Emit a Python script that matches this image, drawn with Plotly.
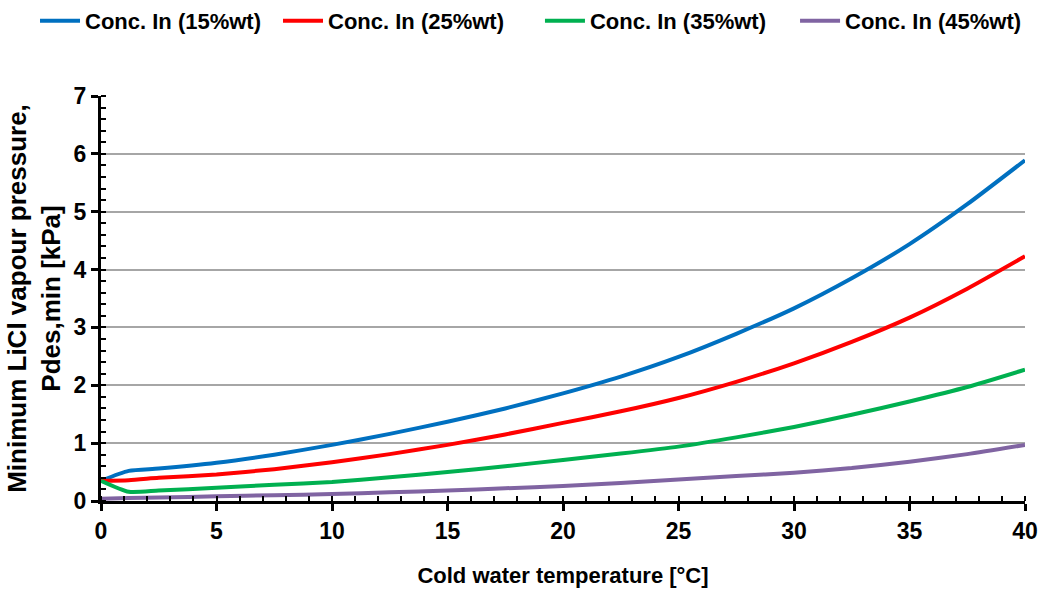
import plotly.graph_objects as go

temp = [0, 1.2, 2.5, 5, 7.5, 10, 12.5, 15, 17.5, 20, 22.5, 25, 27.5, 30, 32.5, 35, 37.5, 40]
p15 = [0.35, 0.52, 0.56, 0.66, 0.80, 0.97, 1.16, 1.37, 1.60, 1.86, 2.15, 2.49, 2.89, 3.33, 3.85, 4.44, 5.13, 5.89]
p25 = [0.35, 0.36, 0.40, 0.46, 0.55, 0.67, 0.81, 0.97, 1.15, 1.35, 1.55, 1.78, 2.06, 2.38, 2.75, 3.17, 3.67, 4.23]
p35 = [0.35, 0.16, 0.18, 0.23, 0.28, 0.33, 0.41, 0.50, 0.60, 0.71, 0.82, 0.94, 1.10, 1.28, 1.49, 1.72, 1.97, 2.27]
p45 = [0.04, 0.05, 0.06, 0.08, 0.10, 0.12, 0.15, 0.18, 0.22, 0.26, 0.31, 0.37, 0.43, 0.49, 0.57, 0.68, 0.81, 0.97]

names = ["Conc. In (15%wt)", "Conc. In (25%wt)", "Conc. In (35%wt)", "Conc. In (45%wt)"]
colors = ["#0070C0", "#FF0000", "#00B050", "#8064A2"]
series = [p15, p25, p35, p45]
legend_ids = ["legend", "legend2", "legend3", "legend4"]
legend_x = [0.0336, 0.2668, 0.5182, 0.7630]

FONT = "Liberation Sans"

fig = go.Figure()
for n, c, s, lg in zip(names, colors, series, legend_ids):
    fig.add_trace(go.Scatter(x=temp, y=s, name=n, mode="lines", legend=lg, showlegend=True,
                             line=dict(color=c, width=4, shape="spline", smoothing=0.6)))

layout_legends = {}
for lg, lx in zip(legend_ids, legend_x):
    layout_legends[lg] = dict(orientation="h", xref="container", yref="container",
                              x=lx, y=1.0, xanchor="left", yanchor="top",
                              font=dict(family=FONT, size=22, weight="bold"),
                              itemwidth=40, borderwidth=0, bgcolor="rgba(0,0,0,0)")

fig.update_layout(
    width=1042, height=590,
    margin=dict(l=101, r=17, t=96, b=89),
    paper_bgcolor="white", plot_bgcolor="white",
    font=dict(family=FONT, color="black"),
    showlegend=True,
    **layout_legends,
)
fig.update_xaxes(
    range=[0, 40], dtick=5, tick0=0, automargin=False,
    showline=True, linecolor="black", linewidth=3,
    ticks="outside", ticklen=7, tickwidth=3, tickcolor="black",
    tickfont=dict(family=FONT, size=23, weight="bold"),
    showgrid=False, zeroline=False,
    minor=dict(dtick=1, ticks="inside", ticklen=5, tickwidth=2, tickcolor="black", showgrid=False),
    title=dict(text="Cold water temperature [°C]", font=dict(family=FONT, size=22, weight="bold"), standoff=26),
)
fig.update_yaxes(
    range=[0, 7], dtick=1, tick0=0, automargin=False,
    showline=True, linecolor="black", linewidth=3,
    ticks="outside", ticklen=7, tickwidth=3, tickcolor="black",
    tickfont=dict(family=FONT, size=23, weight="bold"),
    showgrid=True, gridcolor="#A6A6A6", gridwidth=1.5, zeroline=False,
    minor=dict(dtick=0.2, ticks="inside", ticklen=5, tickwidth=2, tickcolor="black", showgrid=False),
    title=dict(text="Minimum LiCl vapour pressure,<br>Pdes,min [kPa]", font=dict(family=FONT, size=26, weight="bold"), standoff=6),
)

fig.write_html("out.html")
